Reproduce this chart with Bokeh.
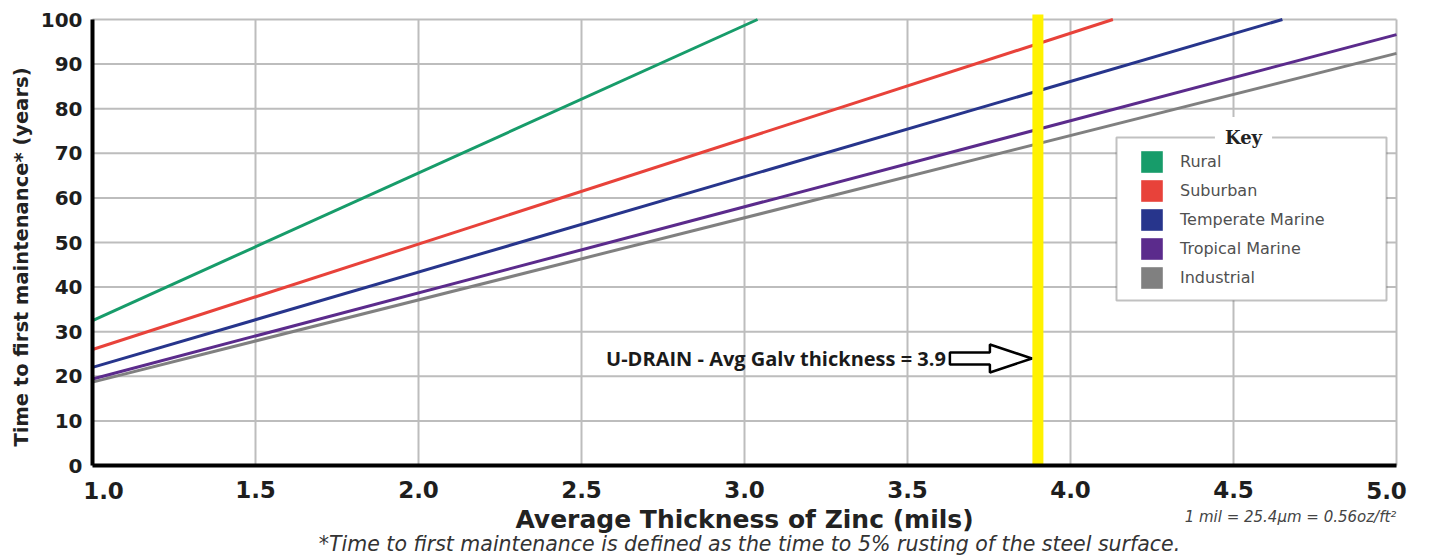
import math
from bokeh.plotting import figure
from bokeh.models import (Legend, LegendItem, Label, FixedTicker,
                          PrintfTickFormatter, BoxAnnotation)
from bokeh.embed import file_html
from bokeh.resources import INLINE

# ---------------- data ----------------
series_names = ["Rural", "Suburban", "Temperate Marine", "Tropical Marine", "Industrial"]
series_colors = ["#179c6a", "#e8423a", "#27358c", "#5b2b8c", "#808080"]

rural_x = [1.0, 3.04]
rural_y = [32.5, 100.0]
suburban_x = [1.0, 4.13]
suburban_y = [26.0, 100.0]
temperate_x = [1.0, 4.65]
temperate_y = [22.0, 100.0]
tropical_x = [1.0, 5.0]
tropical_y = [19.4, 96.6]
industrial_x = [1.0, 5.0]
industrial_y = [18.7, 92.4]

x_ticks = [1.0, 1.5, 2.0, 2.5, 3.0, 3.5, 4.0, 4.5, 5.0]
y_ticks = [0, 10, 20, 30, 40, 50, 60, 70, 80, 90, 100]

udrain_thickness = 3.9
udrain_label = "U-DRAIN - Avg Galv thickness = 3.9"
annot_y = 24.0

x_title = "Average Thickness of Zinc (mils)"
y_title = "Time to first maintenance* (years)"
footnote = "*Time to first maintenance is defined as the time to 5% rusting of the steel surface."
unit_note = "1 mil = 25.4\u03bcm = 0.56oz/ft\u00b2"
legend_title = "Key"

# ---------------- layout (pixels) ----------------
CANVAS_W, CANVAS_H = 1413, 556
AXIS_LEFT_PX = 92          # where x = 1.0 sits
AXIS_TOP_PX = 19           # where y = 100 sits
PX_PER_MIL = 326.0
PX_PER_YEAR = 4.46

X_START = x_ticks[0] - AXIS_LEFT_PX / PX_PER_MIL
X_END = X_START + CANVAS_W / PX_PER_MIL
Y_END = y_ticks[-1] + AXIS_TOP_PX / PX_PER_YEAR
Y_START = Y_END - CANVAS_H / PX_PER_YEAR

p = figure(frame_width=CANVAS_W, frame_height=CANVAS_H,
           x_range=(X_START, X_END), y_range=(Y_START, Y_END),
           output_backend="svg", toolbar_location=None,
           min_border_left=0, min_border_right=0,
           min_border_top=0, min_border_bottom=0,
           background_fill_color="white", border_fill_color="white",
           outline_line_color=None)
p.grid.visible = False

# grid lines limited to the chart area
GRID = dict(line_color="#bdbdbd", line_width=2)
p.segment(x0=x_ticks, y0=[y_ticks[0]] * len(x_ticks),
          x1=x_ticks, y1=[y_ticks[-1]] * len(x_ticks), **GRID)
p.segment(x0=[x_ticks[0]] * len(y_ticks), y0=y_ticks,
          x1=[x_ticks[-1]] * len(y_ticks), y1=y_ticks, **GRID)

# axes, pinned at the chart origin
p.xaxis.fixed_location = y_ticks[0]
p.xaxis.bounds = (x_ticks[0], x_ticks[-1])
p.yaxis.fixed_location = x_ticks[0]
p.yaxis.bounds = (y_ticks[0], y_ticks[-1])
p.xaxis.ticker = FixedTicker(ticks=x_ticks[1:-1])   # end labels are nudged inward below
p.yaxis.ticker = FixedTicker(ticks=y_ticks)
p.xaxis.formatter = PrintfTickFormatter(format="%.1f")
TICK_FONT = "DejaVu Sans"
TICK_COLOR = "#1e1e1e"
for ax in (p.xaxis, p.yaxis):
    ax.axis_line_color = "black"
    ax.axis_line_width = 4
    ax.major_tick_out = 0
    ax.major_tick_in = 0
    ax.minor_tick_out = 0
    ax.minor_tick_in = 0
    ax.major_label_text_font = TICK_FONT
    ax.major_label_text_font_style = "bold"
    ax.major_label_text_color = TICK_COLOR
p.yaxis.major_label_text_font_size = "20px"
p.xaxis.major_label_text_font_size = "23px"
p.xaxis.major_label_standoff = 15
p.yaxis.major_label_standoff = 10
p.xaxis.axis_label = x_title
p.xaxis.axis_label_text_font = "DejaVu Sans"
p.xaxis.axis_label_text_font_style = "bold"
p.xaxis.axis_label_text_color = "#222222"
p.xaxis.axis_label_text_font_size = "25px"
p.xaxis.axis_label_standoff = 4

# first and last x tick labels, shifted inward as in the original
for xv, off in ((x_ticks[0], 11), (x_ticks[-1], -10)):
    p.add_layout(Label(x=xv, y=y_ticks[0], x_offset=off, y_offset=-25,
                       text=f"{xv:.1f}", text_align="center", text_baseline="middle",
                       text_font=TICK_FONT, text_font_style="bold",
                       text_font_size="23px", text_color=TICK_COLOR))

def sx(page_x):
    return page_x - 1

def sy(page_y):
    return CANVAS_H + 1 - page_y

p.add_layout(Label(x=sx(22), y=sy(447), x_units="screen", y_units="screen",
                   angle=math.pi / 2, text=y_title, text_align="left",
                   text_baseline="middle", text_font="DejaVu Sans",
                   text_font_style="bold", text_font_size="19.5px",
                   text_color="#222222"))

# data lines (drawn back to front)
series = [
    (rural_x, rural_y),
    (suburban_x, suburban_y),
    (temperate_x, temperate_y),
    (tropical_x, tropical_y),
    (industrial_x, industrial_y),
]
for i in reversed(range(len(series))):
    xs, ys = series[i]
    p.line(xs, ys, line_color=series_colors[i], line_width=3)

# U-DRAIN marker line (pokes a few pixels above the top gridline, as drawn)
p.segment(x0=[udrain_thickness], y0=[y_ticks[0]], x1=[udrain_thickness],
          y1=[y_ticks[-1] + 5 / PX_PER_YEAR],
          line_color="#fff200", line_width=11, line_cap="butt")

# hollow arrow pointing at the marker line
tip = -6
arrow_dx = [0, -42, -42, -82, -82, -42, -42]
arrow_dy = [0, 14, 6, 6, -6, -6, -14]
arrow_xs = [udrain_thickness + (tip + d) / PX_PER_MIL for d in arrow_dx]
arrow_ys = [annot_y + d / PX_PER_YEAR for d in arrow_dy]
p.patch(arrow_xs, arrow_ys, fill_color="white", line_color="black", line_width=2.5)

p.add_layout(Label(x=udrain_thickness, y=annot_y, x_offset=tip - 82 - 4,
                   text=udrain_label, text_align="right", text_baseline="middle",
                   text_font="Open Sans", text_font_style="bold",
                   text_font_size="20px", text_color="#1a1a1a"))

# legend frame + key title
LEG_L, LEG_R, LEG_T, LEG_B = 1117, 1387, 138, 301
p.add_layout(BoxAnnotation(left=sx(LEG_L), right=sx(LEG_R), top=sy(LEG_T), bottom=sy(LEG_B),
                           left_units="screen", right_units="screen",
                           top_units="screen", bottom_units="screen",
                           fill_color="white", fill_alpha=1.0,
                           line_color="#333333", line_width=2))

items = []
for (xs, ys), name, col in zip(series, series_names, series_colors):
    r = p.quad(left=[xs[0]], right=[xs[0]], top=[ys[0]], bottom=[ys[0]],
               fill_color=col, line_color=None)
    items.append(LegendItem(label=name, renderers=[r]))
legend = Legend(items=items, location=(sx(LEG_L + 13), sy(LEG_B)),
                padding=9, spacing=2, margin=0,
                glyph_width=27, glyph_height=27,
                label_standoff=15, label_width=180,
                label_text_font="DejaVu Sans", label_text_font_size="16px",
                label_text_color="#505050",
                border_line_alpha=0, background_fill_alpha=0)
p.add_layout(legend, "center")

p.add_layout(Label(x=sx(1244), y=sy(LEG_T), x_units="screen", y_units="screen",
                   text=legend_title, text_align="center", text_baseline="middle",
                   text_font="DejaVu Serif", text_font_style="bold",
                   text_font_size="18px", text_color="#222222",
                   background_fill_color="white", padding=10))

# notes below the chart
p.add_layout(Label(x=sx(1291), y=sy(517), x_units="screen", y_units="screen",
                   text=unit_note, text_align="center", text_baseline="middle",
                   text_font="DejaVu Sans", text_font_style="italic",
                   text_font_size="15px", text_color="#444444"))
p.add_layout(Label(x=sx(750), y=1, x_units="screen", y_units="screen",
                   text=footnote, text_align="center", text_baseline="bottom",
                   text_font="DejaVu Sans", text_font_style="italic",
                   text_font_size="20.5px", text_color="#333333"))

open("out.html", "w").write(file_html(p, INLINE))
